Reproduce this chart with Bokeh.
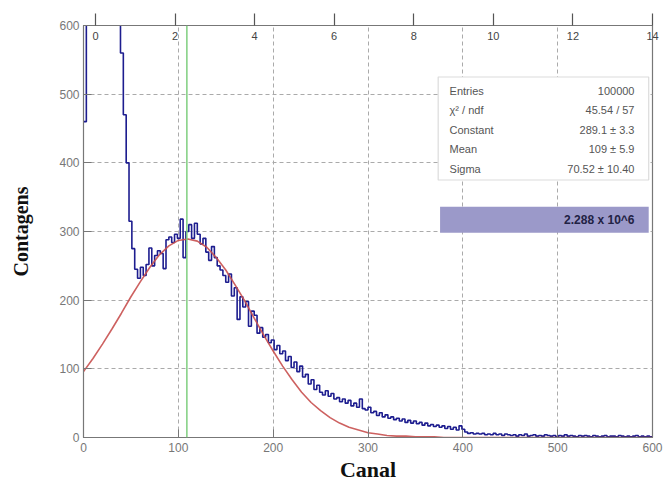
from bokeh.plotting import figure
from bokeh.models import LinearAxis, Range1d, Span, Label, BoxAnnotation
from bokeh.embed import file_html
from bokeh.resources import INLINE

# ---------------- data ----------------
bin_width = 3
counts = [
    460, 900, 900, 900, 900, 900, 900, 900, 900, 900,
    900, 900, 900, 560, 470, 400, 315, 275, 245, 232,
    248, 236, 252, 276, 250, 265, 272, 268, 246, 288,
    292, 284, 296, 290, 318, 262, 300, 310, 290, 312,
    296, 282, 290, 270, 258, 278, 262, 250, 244, 236,
    226, 238, 206, 218, 172, 205, 190, 198, 162, 184,
    178, 152, 160, 146, 150, 138, 142, 128, 134, 122,
    126, 112, 118, 102, 110, 96, 104, 88, 92, 78,
    84, 70, 76, 66, 62, 68, 60, 64, 56, 58,
    52, 56, 50, 54, 46, 50, 44, 56, 42, 40,
    44, 36, 38, 32, 36, 30, 33, 28, 30, 26,
    28, 24, 27, 22, 25, 21, 24, 20, 22, 18,
    21, 17, 19, 16, 18, 15, 17, 13, 16, 12,
    15, 11, 17, 12, 8, 6, 7, 5, 6, 5,
    6, 4, 5, 4, 6, 4, 5, 3, 5, 4,
    3, 4, 2, 4, 3, 5, 2, 3, 4, 2,
    3, 2, 4, 3, 2, 3, 1, 3, 2, 4,
    2, 3, 2, 1, 3, 2, 3, 2, 1, 3,
    2, 1, 2, 3, 1, 2, 2, 1, 3, 2,
    1, 2, 1, 2, 3, 1, 2, 1, 2, 1,
]
fit_x = list(range(0, 601, 10))
fit_y = [
    96, 115, 136, 158, 181, 205, 227, 248, 266, 279,
    287, 289, 286, 277, 262, 244, 222, 199, 174, 149,
    126, 104, 84, 66, 51, 39, 29, 21, 15, 11,
    7, 5, 3, 2, 2, 1, 1, 1, 0, 0,
    0, 0, 0, 0, 0, 0, 0, 0, 0, 0,
    0, 0, 0, 0, 0, 0, 0, 0, 0, 0,
    0,
]
mean_canal = 109
x_ticks = [0, 100, 200, 300, 400, 500, 600]
y_ticks = [0, 100, 200, 300, 400, 500, 600]
top_ticks = [0, 2, 4, 6, 8, 10, 12, 14]
stats_labels = ["Entries", "\u03c7\u00b2 / ndf", "Constant", "Mean", "Sigma"]
stats_values = ["100000", "45.54 / 57", "289.1 \u00b1 3.3", "109 \u00b1 5.9", "70.52 \u00b1 10.40"]
total_text = "2.288 x 10^6"

# ---------------- figure ----------------
p = figure(width=666, height=487, x_range=Range1d(0, 600), y_range=Range1d(0, 600),
           output_backend="svg", toolbar_location=None,
           min_border_left=83, min_border_right=14, min_border_top=25, min_border_bottom=50,
           background_fill_color="white", border_fill_color="white")
p.outline_line_color = "#777777"
p.outline_line_width = 1.2

tick_font = "Liberation Sans"
for ax in (p.xaxis[0], p.yaxis[0]):
    ax.major_tick_in = 8
    ax.major_tick_out = 0
    ax.minor_tick_in = 4
    ax.minor_tick_out = 0
    ax.axis_line_color = "#777777"
    ax.major_tick_line_color = "#777777"
    ax.minor_tick_line_color = "#888888"
    ax.major_label_text_font = tick_font
    ax.major_label_text_font_size = "12px"
    ax.major_label_text_color = "#777777"
    ax.axis_label_text_font = "Liberation Serif"
    ax.axis_label_text_font_style = "bold"
    ax.axis_label_text_color = "#111111"

p.xaxis.ticker = x_ticks
p.yaxis.ticker = y_ticks
p.xaxis.ticker.num_minor_ticks = 5
p.yaxis.ticker.num_minor_ticks = 5
p.xaxis.axis_label = "Canal"
p.xaxis.axis_label_text_font_size = "22px"
p.xaxis.major_label_standoff = 5
p.xaxis.axis_label_standoff = 2
p.yaxis.axis_label = "Contagens"
p.yaxis.axis_label_text_font_size = "20px"
p.yaxis.major_label_standoff = 4
p.yaxis.axis_label_standoff = 24

p.xgrid.grid_line_color = "#aaaaaa"
p.ygrid.grid_line_color = "#aaaaaa"
p.xgrid.grid_line_dash = "4 3"
p.ygrid.grid_line_dash = "4 3"

# top axis (secondary scale)
p.extra_x_ranges = {"top": Range1d(-0.3, 14)}
top_ax = LinearAxis(x_range_name="top")
top_ax.ticker = top_ticks
top_ax.ticker.num_minor_ticks = 4
top_ax.major_tick_out = 12
top_ax.major_tick_in = 0
top_ax.minor_tick_out = 6
top_ax.minor_tick_in = 0
top_ax.axis_line_color = "#777777"
top_ax.major_tick_line_color = "#555555"
top_ax.major_tick_line_width = 1.2
top_ax.minor_tick_line_color = "#777777"
top_ax.major_label_text_font = tick_font
top_ax.major_label_text_font_size = "11px"
top_ax.major_label_text_color = "#444444"
top_ax.major_label_standoff = -26
p.add_layout(top_ax, "above")

# mean line
p.add_layout(Span(location=mean_canal, dimension="height", line_color="#7fcf7f", line_width=1.5))

# histogram (step)
edges = [i * bin_width for i in range(len(counts) + 1)]
step_y = counts + [counts[-1]]
p.step(x=edges, y=step_y, mode="after", line_color="#1d1d8f", line_width=1.6)

# fit curve
p.line(x=fit_x, y=fit_y, line_color="#c8504f", line_width=1.6, line_alpha=0.9)

# stats box
p.add_layout(BoxAnnotation(left=374, right=596, bottom=375, top=525,
                           fill_color="white", fill_alpha=1.0,
                           line_color="#888888", line_width=1.2, level="annotation"))
row_y0 = 505
row_dy = 28.4
for i, (lab, val) in enumerate(zip(stats_labels, stats_values)):
    yy = row_y0 - i * row_dy
    p.add_layout(Label(x=386, y=yy, text=lab, text_font=tick_font, text_font_size="11px",
                       text_color="#555555", text_baseline="middle", text_align="left"))
    p.add_layout(Label(x=581, y=yy, text=val, text_font=tick_font, text_font_size="11px",
                       text_color="#555555", text_baseline="middle", text_align="right"))

# highlighted total box
p.add_layout(BoxAnnotation(left=376, right=596, bottom=298, top=336,
                           fill_color="#9b99c9", fill_alpha=1.0, line_color=None, level="annotation"))
p.add_layout(Label(x=581, y=317, text=total_text, text_font=tick_font, text_font_size="12px",
                   text_font_style="bold", text_color="#222244", text_baseline="middle",
                   text_align="right"))

open("out.html", "w").write(file_html(p, INLINE))
